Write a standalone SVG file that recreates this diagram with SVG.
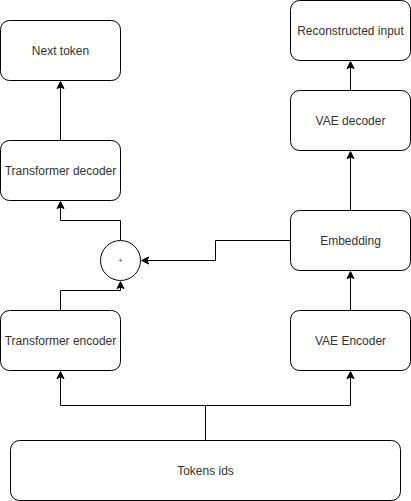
<svg xmlns="http://www.w3.org/2000/svg" width="411" height="501" viewBox="0 0 411 501">
<style>
.box{fill:#ffffff;stroke:#000000;stroke-width:1}
.lbl{font-family:"Liberation Sans",Arial,sans-serif;font-size:12px;fill:#333333;text-anchor:middle;dominant-baseline:central}
.edge{fill:none;stroke:#000000;stroke-width:1;stroke-miterlimit:10}
.head{fill:#000000;stroke:#000000;stroke-width:1}
</style>
<rect width="411" height="501" fill="#ffffff"/>
<g id="connectors">
<path class="edge" d="M 60.5 140.5 L 60.5 86.87"/>
<path class="head" d="M 60.5 81.62 L 64 88.62 L 60.5 86.87 L 57 88.62 Z"/>
<path class="edge" d="M 120.5 240.5 L 120.5 220.5 L 60.5 220.5 L 60.5 206.87"/>
<path class="head" d="M 60.5 201.62 L 64 208.62 L 60.5 206.87 L 57 208.62 Z"/>
<path class="edge" d="M 60.5 310.5 L 60.5 290.5 L 120.5 290.5 L 120.5 286.87"/>
<path class="head" d="M 120.5 281.62 L 124 288.62 L 120.5 286.87 L 117 288.62 Z"/>
<path class="edge" d="M 290.5 240.5 L 215.5 240.5 L 215.5 260.5 L 146.87 260.5"/>
<path class="head" d="M 141.62 260.5 L 148.62 257 L 146.87 260.5 L 148.62 264 Z"/>
<path class="edge" d="M 350.5 210.5 L 350.5 156.87"/>
<path class="head" d="M 350.5 151.62 L 354 158.62 L 350.5 156.87 L 347 158.62 Z"/>
<path class="edge" d="M 350.5 90.5 L 350.5 66.87"/>
<path class="head" d="M 350.5 61.62 L 354 68.62 L 350.5 66.87 L 347 68.62 Z"/>
<path class="edge" d="M 350.5 310.5 L 350.5 276.87"/>
<path class="head" d="M 350.5 271.62 L 354 278.62 L 350.5 276.87 L 347 278.62 Z"/>
<path class="edge" d="M 205.5 440.5 L 205.5 405.5 L 60.5 405.5 L 60.5 376.87"/>
<path class="head" d="M 60.5 371.62 L 64 378.62 L 60.5 376.87 L 57 378.62 Z"/>
<path class="edge" d="M 205.5 405.5 L 350.5 405.5 L 350.5 376.87"/>
<path class="head" d="M 350.5 371.62 L 354 378.62 L 350.5 376.87 L 347 378.62 Z"/>
</g>
<g id="next-token">
<rect class="box" x="0.5" y="20.5" width="120" height="60" rx="9" ry="9"/>
<text class="lbl" x="60.5" y="50.5">Next token</text>
</g>
<g id="transformer-decoder">
<rect class="box" x="0.5" y="140.5" width="120" height="60" rx="9" ry="9"/>
<text class="lbl" x="60.5" y="170.5">Transformer decoder</text>
</g>
<g id="plus">
<circle class="box" cx="120.5" cy="260.5" r="20"/>
<text class="lbl" x="120.5" y="260.5" style="font-size:7px">+</text>
</g>
<g id="transformer-encoder">
<rect class="box" x="0.5" y="310.5" width="120" height="60" rx="9" ry="9"/>
<text class="lbl" x="60.5" y="340.5">Transformer encoder</text>
</g>
<g id="reconstructed-input">
<rect class="box" x="290.5" y="0.5" width="120" height="60" rx="9" ry="9"/>
<text class="lbl" x="350.5" y="30.5">Reconstructed input</text>
</g>
<g id="vae-decoder">
<rect class="box" x="290.5" y="90.5" width="120" height="60" rx="9" ry="9"/>
<text class="lbl" x="350.5" y="120.5">VAE decoder</text>
</g>
<g id="embedding">
<rect class="box" x="290.5" y="210.5" width="120" height="60" rx="9" ry="9"/>
<text class="lbl" x="350.5" y="240.5">Embedding</text>
</g>
<g id="vae-encoder">
<rect class="box" x="290.5" y="310.5" width="120" height="60" rx="9" ry="9"/>
<text class="lbl" x="350.5" y="340.5">VAE Encoder</text>
</g>
<g id="tokens-ids">
<rect class="box" x="10.5" y="440.5" width="390" height="60" rx="9" ry="9"/>
<text class="lbl" x="205.5" y="470.5">Tokens ids</text>
</g>
</svg>
